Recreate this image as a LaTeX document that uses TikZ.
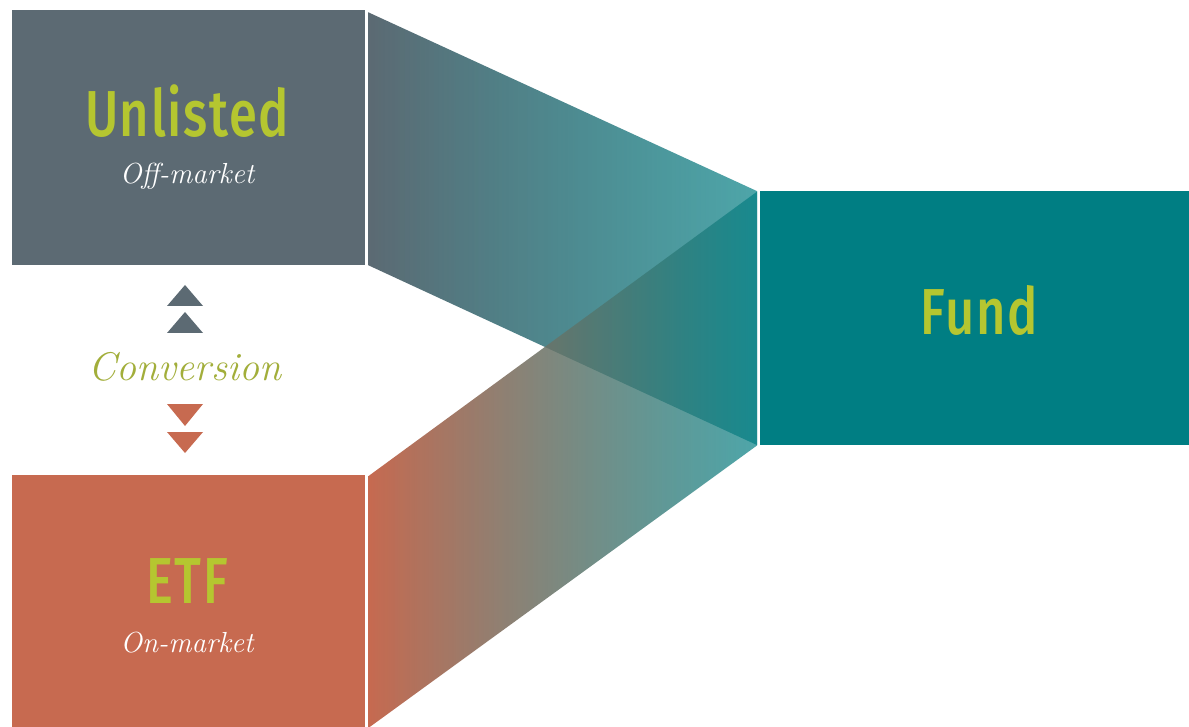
\documentclass[tikz,border=0pt]{standalone}
\usepackage{fontspec}
\newfontfamily\headfont{Fira Sans Medium}[FakeStretch=0.78, LetterSpace=2.5]
\usetikzlibrary{fadings}
\definecolor{slate}{HTML}{5C6A73}
\definecolor{rust}{HTML}{C76A50}
\definecolor{tealc}{HTML}{007E83}
\definecolor{lime}{HTML}{B5C630}
\definecolor{olive}{HTML}{A2AE3A}
\tikzfading[name=bandfade, left color=transparent!0, middle color=transparent!28, right color=transparent!31]
\begin{document}
\begin{tikzpicture}[x=1pt,y=-1pt,
  box/.style={rectangle, inner sep=0pt, draw=none},
  headtext/.style={inner sep=0pt, text=lime, font=\headfont\fontsize{65}{65}\selectfont, anchor=base},
  subtext/.style={inner sep=0pt, text=white, font=\itshape\addfontfeature{FakeBold=0.6}\fontsize{29}{29}\selectfont, anchor=base},
  convtext/.style={inner sep=0pt, text=olive, font=\itshape\addfontfeature{FakeBold=0.8}\fontsize{40}{40}\selectfont, anchor=base},
  band/.style={path fading=bandfade}]
\useasboundingbox (0,0) rectangle (1189,727);
\fill[white] (0,0) rectangle (1189,727);
% boxes
\node[box, fill=slate, minimum width=353pt, minimum height=255pt] (unl) at (188.5,137.5) {};
\node[box, fill=rust, minimum width=353pt, minimum height=253pt] (etf) at (188.5,601.5) {};
\node[box, fill=tealc, minimum width=429pt, minimum height=254pt] (fund) at (974.5,318) {};
% bands
\coordinate (u1) at (368,12);
\coordinate (u2) at (757,191);
\coordinate (u3) at (757,445);
\coordinate (u4) at (368,265);
\coordinate (l1) at (368,476);
\coordinate (l4) at (368,728);
\shade[band, left color=slate, middle color=slate!22!tealc, right color=tealc] (u1) -- (u2) -- (u3) -- (u4) -- cycle;
\shade[band, left color=rust, middle color=rust!40!tealc, right color=tealc] (l1) -- (u2) -- (u3) -- (l4) -- cycle;
% texts
\node[headtext] (unlt) at (187,137) {Unlisted};
\node[subtext] (offm) at (187,184) {Off-market};
\node[headtext] (etft) at (187,603) {ETF};
\node[subtext] (onm) at (187,652) {On-market};
\node[headtext] (fundt) at (979,335) {Fund};
\node[convtext] (conv) at (185,381) {Conversion};
% triangles
\fill[slate] (167,306) -- (203,306) -- (185,285) -- cycle;
\fill[slate] (167,333) -- (203,333) -- (185,312) -- cycle;
\fill[rust] (167,404) -- (203,404) -- (185,426) -- cycle;
\fill[rust] (167,432) -- (203,432) -- (185,453) -- cycle;
\end{tikzpicture}
\end{document}
